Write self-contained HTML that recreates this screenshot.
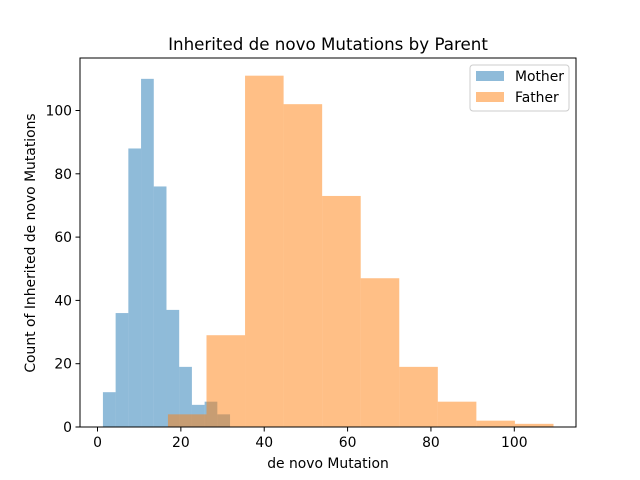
<!DOCTYPE html>
<html><head><meta charset="utf-8"><style>body{margin:0;background:#fff}svg{display:block;font-family:"DejaVu Sans","Liberation Sans",sans-serif}</style></head>
<body>
<svg id="chart" width="640" height="480">
<rect x="0" y="0" width="640" height="480" fill="#fff"/>
<g id="bars"></g>
<rect x="80" y="58" width="496" height="369" fill="none" stroke="#000" stroke-width="1"/>
<g id="ticks" font-size="13.9" fill="#000"></g>
<text x="328" y="50" text-anchor="middle" font-size="16.7">Inherited de novo Mutations by Parent</text>
<text x="328" y="468" text-anchor="middle" font-size="13.9">de novo Mutation</text>
<text transform="translate(35,243) rotate(-90)" text-anchor="middle" font-size="13.9">Count of Inherited de novo Mutations</text>
<g>
<rect x="470" y="65" width="99" height="46" rx="3" fill="#fff" fill-opacity="0.8" stroke="#ccc"/>
<rect x="476" y="71" width="28" height="10" fill="#1f77b4" fill-opacity="0.5"/>
<text x="515" y="81" font-size="13.9">Mother</text>
<rect x="476" y="92" width="28" height="10" fill="#ff7f0e" fill-opacity="0.5"/>
<text x="515" y="102" font-size="13.9">Father</text>
</g>
</svg>
<script>
const motherStart = 1.3;
const motherWidth = 3.05;
const motherCounts = [11, 36, 88, 110, 76, 37, 19, 7, 8, 4];
const fatherStart = 16.9;
const fatherWidth = 9.25;
const fatherCounts = [4, 29, 111, 102, 73, 47, 19, 8, 2, 1];
const xTicks = [0, 20, 40, 60, 80, 100];
const yTicks = [0, 20, 40, 60, 80, 100];

const NS = 'http://www.w3.org/2000/svg';
function xs(v){ return 97.5 + v * 4.168; }
function ys(v){ return 427 - v * 3.165; }
const bars = document.getElementById('bars');
function drawSeries(start, w, counts, color, name){
  counts.forEach((c, i) => {
    const x0 = xs(start + i * w), x1 = xs(start + (i + 1) * w);
    const r = document.createElementNS(NS, 'rect');
    r.setAttribute('x', x0); r.setAttribute('width', x1 - x0);
    r.setAttribute('y', ys(c)); r.setAttribute('height', ys(0) - ys(c));
    r.setAttribute('fill', color); r.setAttribute('fill-opacity', '0.5');
    
    
    bars.appendChild(r);
  });
}
drawSeries(motherStart, motherWidth, motherCounts, '#1f77b4', 'mother');
drawSeries(fatherStart, fatherWidth, fatherCounts, '#ff7f0e', 'father');

const tg = document.getElementById('ticks');
xTicks.forEach(t => {
  const l = document.createElementNS(NS, 'line');
  l.setAttribute('x1', xs(t)); l.setAttribute('x2', xs(t));
  l.setAttribute('y1', 427); l.setAttribute('y2', 431.5);
  l.setAttribute('stroke', '#000');
  
  
  tg.appendChild(l);
  const tx = document.createElementNS(NS, 'text');
  tx.setAttribute('x', xs(t)); tx.setAttribute('y', 447);
  tx.setAttribute('text-anchor', 'middle');
  tx.textContent = t;
  
  
  tg.appendChild(tx);
});
yTicks.forEach(t => {
  const l = document.createElementNS(NS, 'line');
  l.setAttribute('x1', 75.5); l.setAttribute('x2', 80);
  l.setAttribute('y1', ys(t)); l.setAttribute('y2', ys(t));
  l.setAttribute('stroke', '#000');
  
  
  tg.appendChild(l);
  const tx = document.createElementNS(NS, 'text');
  tx.setAttribute('x', 72); tx.setAttribute('y', ys(t) + 5);
  tx.setAttribute('text-anchor', 'end');
  tx.textContent = t;
  
  
  tg.appendChild(tx);
});
</script>
</body></html>
